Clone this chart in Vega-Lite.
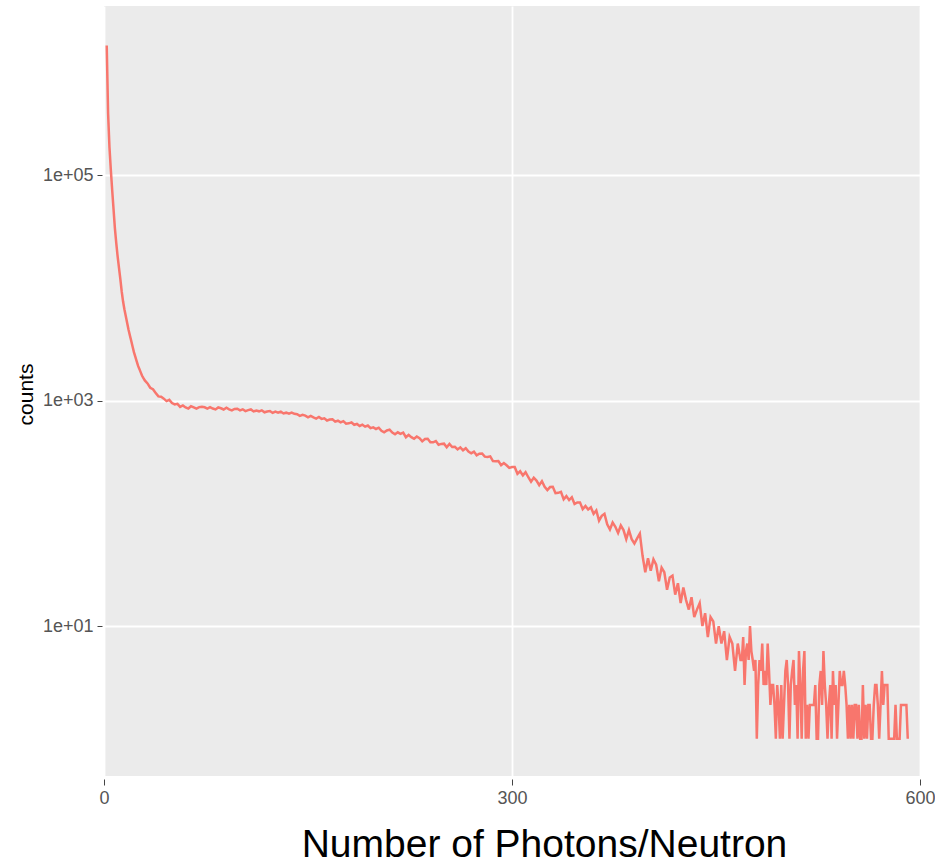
{
"$schema": "https://vega.github.io/schema/vega-lite/v6.json",
"width": 816,
"height": 770,
"autosize": {"type": "none"},
"padding": {"left": 104, "top": 6, "right": 15, "bottom": 88},
"background": "white",
"config": {"view": {"fill": "#EBEBEB", "stroke": null}, "font": "Liberation Sans"},
"data": {"values": [
{"photons":2,"counts":1410000},{"photons":3,"counts":355000},{"photons":4,"counts":178000},{"photons":5,"counts":112000},{"photons":6,"counts":74100},{"photons":7,"counts":50100},{"photons":8,"counts":33900},{"photons":9,"counts":25100},{"photons":10,"counts":19100},{"photons":11,"counts":15100},{"photons":12,"counts":12000},{"photons":13,"counts":9330},{"photons":14,"counts":7590},{"photons":15,"counts":6460},{"photons":16,"counts":5620},{"photons":17,"counts":4900},{"photons":18,"counts":4270},{"photons":19,"counts":3800},{"photons":20,"counts":3390},{"photons":21,"counts":3020},{"photons":22,"counts":2690},{"photons":23,"counts":2450},{"photons":24,"counts":2240},{"photons":25,"counts":2040},{"photons":26,"counts":1910},{"photons":27,"counts":1780},{"photons":28,"counts":1660},{"photons":29,"counts":1580},{"photons":30,"counts":1510},
{"photons":32,"counts":1420},{"photons":34,"counts":1300},{"photons":36,"counts":1260},{"photons":38,"counts":1170},{"photons":40,"counts":1090},{"photons":42,"counts":1080},{"photons":44,"counts":1040},{"photons":46,"counts":990},{"photons":48,"counts":1015},{"photons":50,"counts":950},{"photons":52,"counts":925},{"photons":54,"counts":935},{"photons":56,"counts":880},{"photons":58,"counts":905},{"photons":60,"counts":870},{"photons":62,"counts":850},{"photons":64,"counts":890},{"photons":66,"counts":872},{"photons":68,"counts":848},{"photons":70,"counts":875},
{"photons":72,"counts":880},{"photons":74,"counts":872},{"photons":76,"counts":849},{"photons":78,"counts":873},{"photons":80,"counts":850},{"photons":82,"counts":835},{"photons":84,"counts":870},{"photons":86,"counts":855},{"photons":88,"counts":834},{"photons":90,"counts":863},{"photons":92,"counts":835},{"photons":94,"counts":819},{"photons":96,"counts":844},{"photons":98,"counts":846},{"photons":100,"counts":818},{"photons":102,"counts":837},{"photons":104,"counts":806},{"photons":106,"counts":823},{"photons":108,"counts":834},{"photons":110,"counts":801},{"photons":112,"counts":816},{"photons":114,"counts":803},{"photons":116,"counts":820},{"photons":118,"counts":787},{"photons":120,"counts":800},{"photons":122,"counts":807},{"photons":124,"counts":777},{"photons":126,"counts":797},{"photons":128,"counts":780},{"photons":130,"counts":797},{"photons":132,"counts":768},{"photons":134,"counts":781},{"photons":136,"counts":766},{"photons":138,"counts":783},{"photons":140,"counts":763},
{"photons":142,"counts":758},{"photons":144,"counts":732},{"photons":146,"counts":748},{"photons":148,"counts":735},{"photons":150,"counts":709},{"photons":152,"counts":731},{"photons":154,"counts":710},{"photons":156,"counts":693},{"photons":158,"counts":715},{"photons":160,"counts":688},{"photons":162,"counts":697},{"photons":164,"counts":666},{"photons":166,"counts":679},{"photons":168,"counts":683},{"photons":170,"counts":651},{"photons":172,"counts":663},{"photons":174,"counts":641},{"photons":176,"counts":657},{"photons":178,"counts":624},{"photons":180,"counts":628},{"photons":182,"counts":640},{"photons":184,"counts":610},{"photons":186,"counts":620},{"photons":188,"counts":595},{"photons":190,"counts":611},{"photons":192,"counts":587},{"photons":194,"counts":601},{"photons":196,"counts":569},{"photons":198,"counts":578},{"photons":200,"counts":560},
{"photons":202,"counts":575},{"photons":204,"counts":540},{"photons":206,"counts":523},{"photons":208,"counts":543},{"photons":210,"counts":553},{"photons":212,"counts":521},{"photons":214,"counts":503},{"photons":216,"counts":523},{"photons":218,"counts":506},{"photons":220,"counts":520},{"photons":222,"counts":473},{"photons":224,"counts":496},{"photons":226,"counts":474},{"photons":228,"counts":458},{"photons":230,"counts":479},{"photons":232,"counts":464},{"photons":234,"counts":435},{"photons":236,"counts":456},{"photons":238,"counts":459},{"photons":240,"counts":427},{"photons":242,"counts":426},{"photons":244,"counts":437},{"photons":246,"counts":406},{"photons":248,"counts":413},{"photons":250,"counts":415},{"photons":252,"counts":386},{"photons":254,"counts":412},{"photons":256,"counts":387},{"photons":258,"counts":389},{"photons":260,"counts":369},{"photons":262,"counts":385},{"photons":264,"counts":362},{"photons":266,"counts":378},{"photons":268,"counts":353},{"photons":270,"counts":341},{"photons":272,"counts":353},{"photons":274,"counts":327},{"photons":276,"counts":338},{"photons":278,"counts":339},{"photons":280,"counts":318},{"photons":282,"counts":316},{"photons":284,"counts":320},{"photons":286,"counts":291},{"photons":288,"counts":289},{"photons":290,"counts":291},{"photons":292,"counts":267},{"photons":294,"counts":279},{"photons":296,"counts":267},{"photons":298,"counts":253},{"photons":300,"counts":257},
{"photons":302,"counts":257},{"photons":304,"counts":224},{"photons":306,"counts":236},{"photons":308,"counts":217},{"photons":310,"counts":232},{"photons":312,"counts":209},{"photons":314,"counts":191},{"photons":316,"counts":207},{"photons":318,"counts":195},{"photons":320,"counts":178},{"photons":322,"counts":193},{"photons":324,"counts":172},{"photons":326,"counts":161},{"photons":328,"counts":171},{"photons":330,"counts":172},{"photons":332,"counts":151},{"photons":334,"counts":152},{"photons":336,"counts":155},{"photons":338,"counts":133},{"photons":340,"counts":142},{"photons":342,"counts":131},{"photons":344,"counts":139},{"photons":346,"counts":121},{"photons":348,"counts":125},{"photons":350,"counts":125},{"photons":352,"counts":109},{"photons":354,"counts":116},{"photons":356,"counts":108},{"photons":358,"counts":113},{"photons":360,"counts":99},
{"photons":362,"counts":106},{"photons":364,"counts":86},{"photons":366,"counts":95},{"photons":368,"counts":99},{"photons":370,"counts":80},{"photons":372,"counts":72},{"photons":374,"counts":83},{"photons":376,"counts":76},{"photons":378,"counts":67},{"photons":380,"counts":78},{"photons":382,"counts":71},{"photons":384,"counts":59},{"photons":386,"counts":71},{"photons":388,"counts":59},{"photons":390,"counts":54},{"photons":392,"counts":60},{"photons":394,"counts":66},{"photons":396,"counts":42},{"photons":398,"counts":30},{"photons":400,"counts":40},
{"photons":402,"counts":31},{"photons":404,"counts":39},{"photons":406,"counts":35},{"photons":408,"counts":25},{"photons":410,"counts":33},{"photons":412,"counts":30},{"photons":414,"counts":21},{"photons":416,"counts":27},{"photons":418,"counts":28},{"photons":420,"counts":19},{"photons":422,"counts":24},{"photons":424,"counts":16},{"photons":426,"counts":22},{"photons":428,"counts":17},{"photons":430,"counts":14},{"photons":432,"counts":18},{"photons":434,"counts":12},{"photons":436,"counts":14},{"photons":438,"counts":16},{"photons":440,"counts":10},{"photons":442,"counts":13},{"photons":444,"counts":8},{"photons":446,"counts":12},{"photons":448,"counts":11},{"photons":450,"counts":7},{"photons":452,"counts":10},{"photons":454,"counts":7},{"photons":456,"counts":9},{"photons":458,"counts":5},{"photons":460,"counts":8},{"photons":462,"counts":7},{"photons":464,"counts":4},{"photons":466,"counts":7},{"photons":468,"counts":5},
{"photons":469,"counts":5},{"photons":470,"counts":8},{"photons":471,"counts":3},{"photons":472,"counts":6},{"photons":473,"counts":7},{"photons":474,"counts":5},{"photons":475,"counts":10},{"photons":476,"counts":6},{"photons":477,"counts":5},{"photons":478,"counts":4},{"photons":479,"counts":5},{"photons":480,"counts":1},{"photons":481,"counts":3},{"photons":482,"counts":5},{"photons":483,"counts":4},{"photons":484,"counts":7},{"photons":485,"counts":3},{"photons":486,"counts":4},{"photons":487,"counts":3},{"photons":488,"counts":7},{"photons":489,"counts":4},{"photons":490,"counts":2},
{"photons":491,"counts":3},{"photons":492,"counts":3},{"photons":493,"counts":2},{"photons":494,"counts":1},{"photons":495,"counts":3},{"photons":496,"counts":2},{"photons":497,"counts":1},{"photons":498,"counts":3},{"photons":499,"counts":1},{"photons":500,"counts":2},{"photons":501,"counts":4},{"photons":502,"counts":5},{"photons":503,"counts":3},{"photons":504,"counts":1},{"photons":505,"counts":3},{"photons":506,"counts":4},{"photons":507,"counts":5},{"photons":508,"counts":2},{"photons":509,"counts":3},{"photons":510,"counts":1},
{"photons":511,"counts":6},{"photons":512,"counts":3},{"photons":513,"counts":1},{"photons":514,"counts":4},{"photons":515,"counts":6},{"photons":516,"counts":1},{"photons":517,"counts":2},{"photons":518,"counts":1},{"photons":519,"counts":2},{"photons":520,"counts":2},{"photons":521,"counts":2},{"photons":522,"counts":2},{"photons":523,"counts":3},{"photons":524,"counts":1},{"photons":525,"counts":1},{"photons":526,"counts":3},{"photons":527,"counts":4},{"photons":528,"counts":2},{"photons":529,"counts":6},{"photons":530,"counts":3},
{"photons":531,"counts":2},{"photons":532,"counts":1},{"photons":533,"counts":2},{"photons":534,"counts":3},{"photons":535,"counts":1},{"photons":536,"counts":4},{"photons":537,"counts":2},{"photons":538,"counts":3},{"photons":539,"counts":1},{"photons":540,"counts":2},{"photons":541,"counts":4},{"photons":542,"counts":3},{"photons":543,"counts":3},{"photons":544,"counts":4},{"photons":545,"counts":3},{"photons":546,"counts":2},{"photons":547,"counts":1},{"photons":548,"counts":2},{"photons":549,"counts":1},{"photons":550,"counts":2},
{"photons":551,"counts":1},{"photons":552,"counts":2},{"photons":553,"counts":2},{"photons":554,"counts":1},{"photons":555,"counts":2},{"photons":556,"counts":1},{"photons":557,"counts":1},{"photons":558,"counts":3},{"photons":559,"counts":1},{"photons":560,"counts":2},{"photons":561,"counts":1},{"photons":562,"counts":2},{"photons":563,"counts":2},{"photons":564,"counts":1},{"photons":565,"counts":1},{"photons":566,"counts":2},{"photons":567,"counts":3},{"photons":568,"counts":3},{"photons":569,"counts":2},{"photons":570,"counts":1},
{"photons":571,"counts":2},{"photons":572,"counts":4},{"photons":573,"counts":2},{"photons":574,"counts":3},{"photons":575,"counts":3},{"photons":576,"counts":3},{"photons":577,"counts":1},{"photons":578,"counts":1},{"photons":579,"counts":1},{"photons":580,"counts":1},{"photons":581,"counts":1},{"photons":582,"counts":2},{"photons":583,"counts":1},{"photons":584,"counts":1},{"photons":585,"counts":1},{"photons":586,"counts":2},{"photons":587,"counts":2},{"photons":588,"counts":2},{"photons":589,"counts":2},{"photons":590,"counts":2},{"photons":591,"counts":1}
]},
"mark": {"type": "line", "color": "#F8766D", "strokeWidth": 2.5, "clip": true},
"encoding": {
  "x": {"field": "photons", "type": "quantitative",
    "scale": {"domain": [0, 600], "nice": false, "zero": false},
    "axis": {"values": [0, 300, 600], "title": "Number of Photons/Neutron", "format": "d",
      "grid": true, "gridColor": "white", "gridWidth": 1.8, "domain": false,
      "offset": 3, "tickSize": 6, "tickColor": "#444444", "tickWidth": 1,
      "labelFontSize": 18, "labelColor": "#555555", "labelPadding": 4, "labelFlush": false,
      "titleFontSize": 39, "titleFontWeight": "normal", "titleColor": "black",
      "titleX": 440, "titleY": 77, "titleBaseline": "alphabetic", "titleAlign": "center", "titleAnchor": null}},
  "y": {"field": "counts", "type": "quantitative",
    "scale": {"type": "log", "domain": [0.468, 3160000], "nice": false},
    "axis": {"values": [10, 1000, 100000], "title": "counts",
      "labelExpr": "datum.value == 10 ? '1e+01' : datum.value == 1000 ? '1e+03' : '1e+05'",
      "grid": true, "gridColor": "white", "gridWidth": 1.8, "domain": false,
      "offset": 2, "tickSize": 5, "tickColor": "#444444", "tickWidth": 1,
      "labelFontSize": 18, "labelColor": "#555555", "labelPadding": 4, "labelFlush": false,
      "titleFontSize": 21, "titleFontWeight": "normal", "titleColor": "black",
      "titleX": -70, "titleY": 388, "titleAngle": 270, "titleBaseline": "alphabetic", "titleAlign": "center", "titleAnchor": null}}
}
}
